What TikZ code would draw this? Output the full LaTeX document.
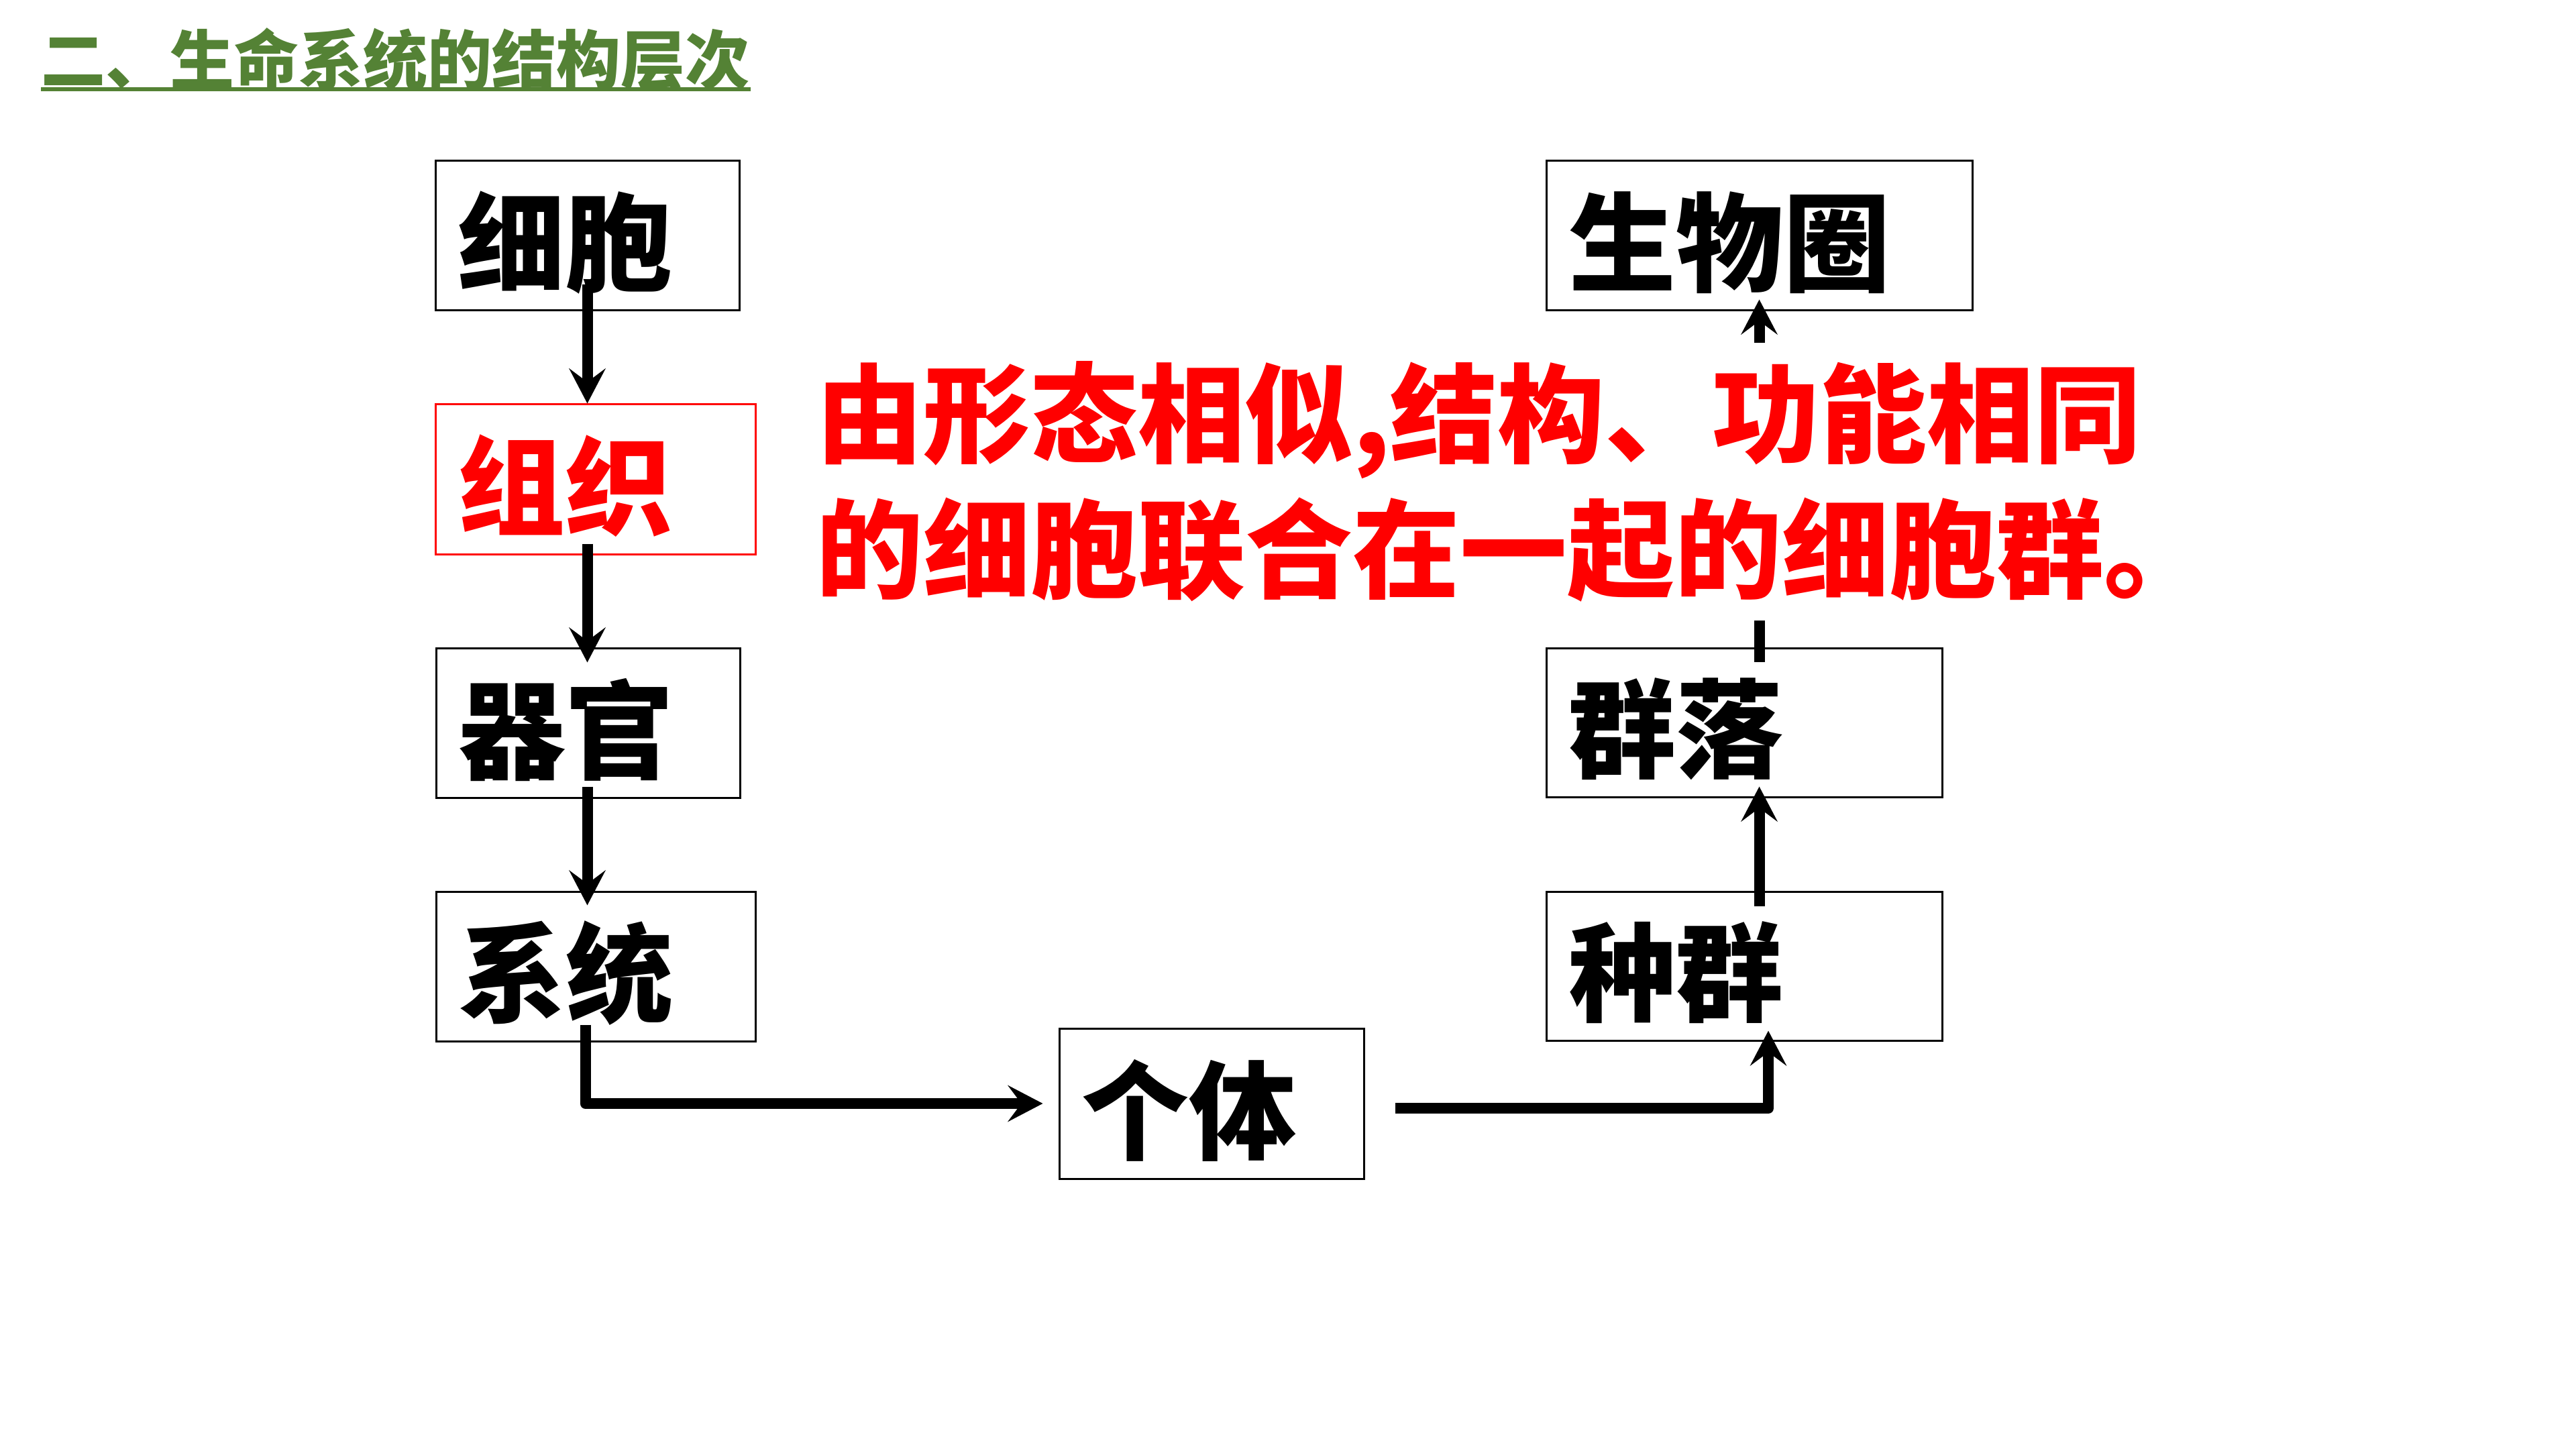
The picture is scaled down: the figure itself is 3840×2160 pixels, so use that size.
\documentclass[tikz,border=0pt]{standalone}
\usepackage{fontspec}
\newfontfamily\cjk{Noto Sans CJK SC}
\usetikzlibrary{arrows.meta,calc}
\definecolor{titlegreen}{RGB}{84,130,53}
\begin{document}
\begin{tikzpicture}[x=0.25pt,y=-0.25pt,
  box/.style={draw=black, line width=0.75pt, inner sep=0pt},
  lbl/.style={anchor=west, inner sep=0pt, font=\cjk\bfseries\fontsize{40pt}{48pt}\selectfont},
  arr/.style={line width=4pt, line join=round, -{Stealth[length=13pt,width=13.5pt,inset=5pt]}},
  redtext/.style={anchor=west, fill=white, text=red, align=left, inner xsep=10pt, inner ysep=7pt,
    font=\cjk\bfseries\fontsize{40pt}{50.5pt}\selectfont}]
\fill[white] (0,0) rectangle (3840,2160);
\useasboundingbox (0,0) rectangle (3840,2160);

% title
\node[anchor=base west, inner sep=0pt, text=titlegreen, font=\cjk\bfseries\fontsize{24pt}{28pt}\selectfont] (title) at (61,126) {二、生命系统的结构层次};
\draw[titlegreen, line width=1.5pt] ($(title.base west)+(0,7)$) -- ($(title.base east)+(0,7)$);

% boxes
\node[box, minimum width=113.25pt, minimum height=55.75pt] (cell) at (875.5,351.5) {};
\node[box, draw=red, minimum width=119.25pt, minimum height=55.75pt] (tissue) at (887.5,714.5) {};
\node[box, minimum width=113.25pt, minimum height=55.75pt] (organ) at (876.5,1077.5) {};
\node[box, minimum width=119pt, minimum height=55.75pt] (system) at (888,1440.5) {};
\node[box, minimum width=113.5pt, minimum height=56pt] (indiv) at (1806,1645) {};
\node[box, minimum width=147.5pt, minimum height=55.5pt] (pop) at (2600,1440) {};
\node[box, minimum width=147.5pt, minimum height=55.5pt] (comm) at (2600,1077) {};
\node[box, minimum width=158.75pt, minimum height=55.75pt] (bio) at (2622.5,351.5) {};

% labels
\node[lbl] (cellt) at ($(cell.west)+(34,10)$) {细胞};
\node[lbl, text=red] (tissuet) at ($(tissue.west)+(34,10)$) {组织};
\node[lbl] (organt) at ($(organ.west)+(34,10)$) {器官};
\node[lbl] (systemt) at ($(system.west)+(34,10)$) {系统};
\node[lbl] (indivt) at ($(indiv.west)+(34,10)$) {个体};
\node[lbl] (popt) at ($(pop.west)+(34,10)$) {种群};
\node[lbl] (commt) at ($(comm.west)+(34,10)$) {群落};
\node[lbl] (biot) at ($(bio.west)+(34,10)$) {生物圈};

% arrows
\draw[arr] ($(cell.south)+(0,-40)$) -- (cell.south |- tissue.north);
\draw[arr] ($(cell.south |- tissue.south)+(0,-17)$) -- ($(cell.south |- organ.north)+(0,23)$);
\draw[arr] ($(cell.south |- organ.south)+(0,-18)$) -- ($(cell.south |- system.north)+(0,22)$);
\draw[arr] ($(cell.south |- system.south)+(-3,-26)$) |- ($(indiv.west)+(-23,0)$);
\draw[arr] ($(indiv.east)+(45,7)$) -| ($(pop.south)+(36,-16)$);
\draw[arr] ($(bio.south |- pop.north)+(0,23)$) -- ($(bio.south |- comm.south)+(0,-17)$);
\draw[arr] ($(bio.south |- comm.north)+(0,22)$) -- ($(bio.south)+(0,-18)$);

% definition text
\node[redtext] (def) at (1176,718) {由形态相似,结构、功能相同\\的细胞联合在一起的细胞群。};
\end{tikzpicture}
\end{document}
